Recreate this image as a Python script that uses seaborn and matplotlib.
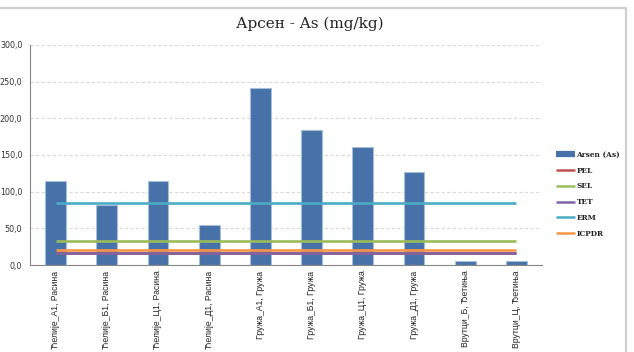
import numpy as np
import pandas as pd
import matplotlib
matplotlib.use("Agg")
import matplotlib.pyplot as plt
from matplotlib.lines import Line2D
import seaborn as sns

# Sampling sites and measured arsenic content (mg/kg)
sites = ["Ћелије_А1, Расина", "Ћелије_Б1, Расина", "Ћелије_Ц1, Расина", "Ћелије_Д1, Расина",
         "Гружа_А1, Гружа", "Гружа_Б1, Гружа", "Гружа_Ц1, Гружа", "Гружа_Д1, Гружа",
         "Врутци_Б, Ђетиња", "Врутци_Ц, Ђетиња"]
arsenic = [115, 82, 115, 55, 241, 184, 161, 127, 5, 5]

# Sediment quality guideline levels (mg/kg)
guideline_names = ["PEL", "SEL", "TET", "ERM", "ICPDR"]
guideline_values = [17, 33, 17, 85, 20]
guideline_colors = ["#C0504D", "#9BBB59", "#8064A2", "#4BACC6", "#F79646"]

y_ticks = [0, 50, 100, 150, 200, 250, 300]

bar_color = "#4672A9"

sns.set_theme(style="white")
plt.rcParams["font.family"] = ["DejaVu Sans"]

fig = plt.figure(figsize=(6.34, 3.52), dpi=100)
ax = fig.add_axes([30 / 634, 1 - 265 / 352, (542 - 30) / 634, (265 - 45) / 352])

df = pd.DataFrame({"site": sites, "value": arsenic})
sns.barplot(data=df, x="site", y="value", color=bar_color, width=0.41,
            edgecolor="#A9BCD8", linewidth=0.8, saturation=1, ax=ax, zorder=2)

x_pos = np.arange(len(sites))
line_handles = []
for name, val, col in zip(guideline_names, guideline_values, guideline_colors):
    ln, = ax.plot(x_pos, np.full(len(sites), val), color=col, lw=1.9, label=name,
                  solid_capstyle="butt", zorder=3)
    line_handles.append(ln)

ax.set_xlim(-0.5, len(sites) - 0.5)
ax.set_ylim(0, 300)
ax.set_yticks(y_ticks)
ax.set_yticklabels([f"{v:.1f}".replace(".", ",") for v in y_ticks],
                   fontsize=5.8, color="#333333")
ax.set_xticks(x_pos)
ax.set_xticklabels(sites, rotation=90, fontsize=6.2, color="#222222",
                   family=["Liberation Sans Narrow", "Liberation Sans", "DejaVu Sans"])
ax.set_xticks(np.arange(-0.5, len(sites)), minor=True)
ax.tick_params(axis="x", which="major", length=0, pad=4)
ax.tick_params(axis="x", which="minor", length=4, color="#868686", width=0.8, direction="out")
ax.tick_params(axis="y", length=2.5, color="#868686", width=0.8, direction="out", pad=3)
ax.set_xlabel("")
ax.set_ylabel("")

ax.yaxis.grid(True, linestyle=(0, (3, 2)), color="#D9D9D9", lw=0.8)
ax.set_axisbelow(True)
for s in ["top", "right"]:
    ax.spines[s].set_visible(False)
for s in ["left", "bottom"]:
    ax.spines[s].set_color("#868686")
    ax.spines[s].set_linewidth(0.8)

fig.text(310 / 634, 1 - 24 / 352, "Арсен - As (mg/kg)", ha="center", va="center",
         fontsize=11, family=["DejaVu Serif"], color="#222222")

# Legend: bar series first, then guideline levels
bar_handle = Line2D([], [], color=bar_color, lw=4.5, solid_capstyle="butt")
handles = [bar_handle] + line_handles
labels = ["Arsen (As)"] + guideline_names
leg = fig.legend(handles, labels, loc="upper left",
                 bbox_to_anchor=(553 / 634, 1 - 148 / 352), frameon=False,
                 prop={"family": "DejaVu Serif", "size": 5.3, "weight": "bold"},
                 handlelength=2.6, handletextpad=0.2, labelspacing=1.05,
                 borderaxespad=0)
for h in leg.legend_handles[1:]:
    h.set_linewidth(1.8)
for t in leg.get_texts():
    t.set_color("#222222")

# Chart frame edges
fig.add_artist(Line2D([0, 626 / 634], [1 - 8 / 352, 1 - 8 / 352],
                      transform=fig.transFigure, color="#D0D0D0", lw=1.6))
fig.add_artist(Line2D([626 / 634, 626 / 634], [1 - 8 / 352, 0],
                      transform=fig.transFigure, color="#D0D0D0", lw=1.6))

fig.savefig("out.png", dpi=100)
